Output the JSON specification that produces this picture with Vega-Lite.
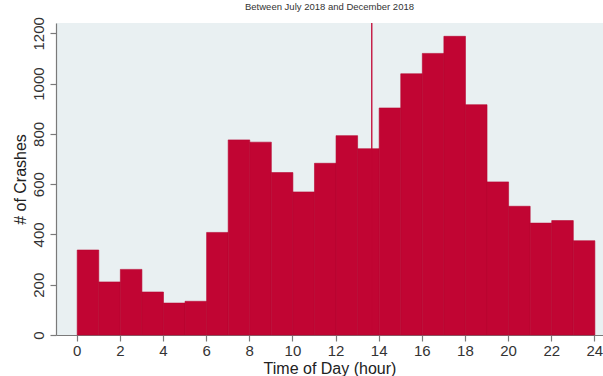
{
  "$schema": "https://vega.github.io/schema/vega-lite/v6.json",
  "autosize": "none",
  "width": 547,
  "height": 312,
  "padding": {"left": 56, "top": 23, "right": 0, "bottom": 41},
  "background": "white",
  "view": {"fill": "#E9F0F2", "stroke": null},
  "title": {
    "text": "Between July 2018 and December 2018",
    "fontSize": 9.5,
    "font": "Liberation Sans",
    "fontWeight": "normal",
    "color": "#333333",
    "anchor": "middle",
    "frame": "group",
    "offset": 5
  },
  "config": {
    "font": "Liberation Sans",
    "axis": {
      "grid": false,
      "domainColor": "#7a7a7a",
      "tickColor": "#7a7a7a",
      "domainWidth": 1.2,
      "tickWidth": 1.2,
      "tickSize": 6,
      "labelColor": "#333333",
      "labelFontSize": 15,
      "titleColor": "#222222",
      "titleFontSize": 16,
      "titleFontWeight": "normal"
    }
  },
  "layer": [
    {
      "data": {
        "values": [
          {"start": 0, "end": 1, "crashes": 338},
          {"start": 1, "end": 2, "crashes": 211},
          {"start": 2, "end": 3, "crashes": 261},
          {"start": 3, "end": 4, "crashes": 171},
          {"start": 4, "end": 5, "crashes": 127},
          {"start": 5, "end": 6, "crashes": 134},
          {"start": 6, "end": 7, "crashes": 408},
          {"start": 7, "end": 8, "crashes": 776},
          {"start": 8, "end": 9, "crashes": 767},
          {"start": 9, "end": 10, "crashes": 646},
          {"start": 10, "end": 11, "crashes": 569},
          {"start": 11, "end": 12, "crashes": 683},
          {"start": 12, "end": 13, "crashes": 793},
          {"start": 13, "end": 14, "crashes": 741},
          {"start": 14, "end": 15, "crashes": 903},
          {"start": 15, "end": 16, "crashes": 1039},
          {"start": 16, "end": 17, "crashes": 1120},
          {"start": 17, "end": 18, "crashes": 1188},
          {"start": 18, "end": 19, "crashes": 916},
          {"start": 19, "end": 20, "crashes": 609},
          {"start": 20, "end": 21, "crashes": 512},
          {"start": 21, "end": 22, "crashes": 445},
          {"start": 22, "end": 23, "crashes": 455},
          {"start": 23, "end": 24, "crashes": 375}
        ]
      },
      "mark": {"type": "bar", "color": "#C10533", "stroke": "#B5052F", "strokeWidth": 0.6, "binSpacing": 0},
      "encoding": {
        "x": {
          "field": "start",
          "type": "quantitative",
          "bin": {"binned": true, "step": 1},
          "scale": {"domain": [-0.96, 24.4], "nice": false, "zero": false},
          "axis": {
            "values": [0, 2, 4, 6, 8, 10, 12, 14, 16, 18, 20, 22, 24],
            "title": "Time of Day (hour)",
            "labelPadding": 2,
            "titlePadding": 2,
            "labelFlush": false
          }
        },
        "x2": {"field": "end"},
        "y": {
          "field": "crashes",
          "type": "quantitative",
          "scale": {"domain": [0, 1241], "nice": false},
          "axis": {
            "values": [0, 200, 400, 600, 800, 1000, 1200],
            "format": "d",
            "title": "# of Crashes",
            "labelAngle": -90,
            "labelAlign": "center",
            "labelBaseline": "bottom",
            "labelPadding": 4,
            "titlePadding": 3,
            "domain": true,
            "labelFlush": false
          }
        }
      }
    },
    {
      "data": {"values": [{"mean_hour": 13.68}]},
      "mark": {"type": "rule", "color": "#C10533", "strokeWidth": 1.3},
      "encoding": {
        "x": {"field": "mean_hour", "type": "quantitative"}
      }
    }
  ]
}
